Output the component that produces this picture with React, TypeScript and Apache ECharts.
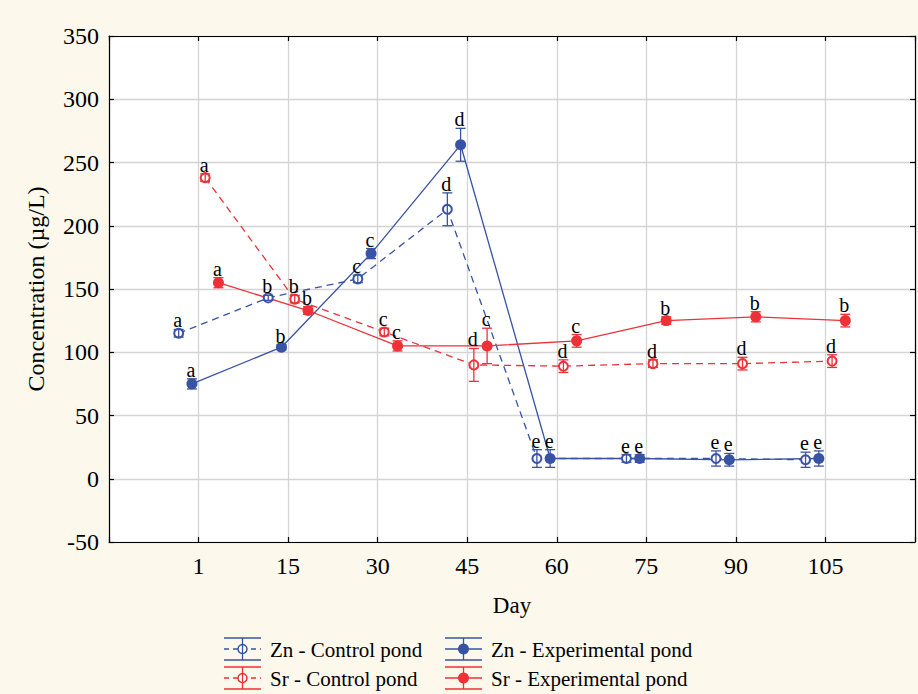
import React, { useEffect, useRef } from 'react';
import * as echarts from 'echarts';

const days = ['1', '15', '30', '45', '60', '75', '90', '105'];
const seriesNames = ['Zn - Control pond', 'Zn - Experimental pond', 'Sr - Control pond', 'Sr - Experimental pond'];

const znControl = [115, 143, 158, 213, 16, 16, 16, 15];
const znControlErr = [3, 2, 3, 13, 7, 3, 6, 6];
const znControlLetters = ['a', 'b', 'c', 'd', 'e', 'e', 'e', 'e'];

const znExp = [75, 104, 178, 264, 16, 16, 15, 16];
const znExpErr = [4, 2, 4, 13, 7, 3, 5, 6];
const znExpLetters = ['a', 'b', 'c', 'd', 'e', 'e', 'e', 'e'];

const srControl = [238, 142, 116, 90, 89, 91, 91, 93];
const srControlErr = [3, 3, 3, 13, 5, 3, 5, 5];
const srControlLetters = ['a', 'b', 'c', 'd', 'd', 'd', 'd', 'd'];

const srExp = [155, 133, 105, 105, 109, 125, 128, 125];
const srExpErr = [4, 3, 4, 14, 5, 3, 4, 5];
const srExpLetters = ['a', 'b', 'c', 'c', 'c', 'b', 'b', 'b'];

const BLUE = '#3953a4';
const RED = '#ee3138';
const FONT = '"Liberation Serif", "Times New Roman", serif';

export default function App() {
  const ref = useRef<HTMLDivElement>(null);
  useEffect(() => {
    const chart = echarts.init(ref.current!, null, { renderer: 'svg' });
    const groups = [
      { name: seriesNames[0], values: znControl, errors: znControlErr, letters: znControlLetters, color: BLUE, dashed: true, hollow: true },
      { name: seriesNames[1], values: znExp, errors: znExpErr, letters: znExpLetters, color: BLUE, dashed: false, hollow: false },
      { name: seriesNames[2], values: srControl, errors: srControlErr, letters: srControlLetters, color: RED, dashed: true, hollow: true },
      { name: seriesNames[3], values: srExp, errors: srExpErr, letters: srExpLetters, color: RED, dashed: false, hollow: false },
    ];
    const offsets = [-0.222, -0.074, 0.074, 0.222];
    const series: any[] = [];
    groups.forEach((g, gi) => {
      series.push({
        type: 'line',
        name: g.name,
        data: g.values.map((v, i) => [i + offsets[gi], v]),
        symbol: g.hollow ? 'emptyCircle' : 'circle',
        symbolSize: g.hollow ? 9 : 11,
        lineStyle: { color: g.color, width: 1.3, type: g.dashed ? [7, 5] : 'solid' },
        itemStyle: { color: g.color, borderWidth: g.hollow ? 1.5 : 0 },
        z: 2,
        silent: true,
      });
      series.push({
        type: 'custom',
        name: g.name + ' err',
        data: g.values.map((v, i) => [i + offsets[gi], v - g.errors[i], v + g.errors[i]]),
        encode: { x: 0, y: [1, 2] },
        z: 3,
        silent: true,
        renderItem: (params: any, api: any) => {
          const x = api.value(0);
          const pLo = api.coord([x, api.value(1)]);
          const pHi = api.coord([x, api.value(2)]);
          const cx = pLo[0];
          const half = 5;
          const st = { stroke: g.color, lineWidth: 1.3 };
          return {
            type: 'group',
            children: [
              { type: 'line', shape: { x1: cx, y1: pLo[1], x2: cx, y2: pHi[1] }, style: st },
              { type: 'line', shape: { x1: cx - half, y1: pLo[1], x2: cx + half, y2: pLo[1] }, style: st },
              { type: 'line', shape: { x1: cx - half, y1: pHi[1], x2: cx + half, y2: pHi[1] }, style: st },
              {
                type: 'text',
                style: {
                  text: g.letters[params.dataIndex],
                  x: cx - 1,
                  y: pHi[1] + 1,
                  align: 'center',
                  verticalAlign: 'bottom',
                  fontSize: 20,
                  fontFamily: FONT,
                  fill: '#000',
                },
              },
            ],
          };
        },
      });
    });

    const graphic: any[] = [];
    groups.forEach((g, i) => {
      const col = i % 2;
      const row = Math.floor(i / 2);
      const x0 = [224, 445][col];
      const tx = [270, 491][col];
      const cy = [649, 678][row];
      const w = 37;
      const mid = x0 + w / 2;
      const st = { stroke: g.color, lineWidth: 1.3 };
      graphic.push({ type: 'line', shape: { x1: x0, y1: cy - 11, x2: x0 + w, y2: cy - 11 }, style: st });
      graphic.push({ type: 'line', shape: { x1: x0, y1: cy + 11, x2: x0 + w, y2: cy + 11 }, style: st });
      graphic.push({ type: 'line', shape: { x1: x0, y1: cy, x2: x0 + w, y2: cy }, style: { ...st, lineDash: g.dashed ? [5, 4] : null } });
      graphic.push({ type: 'circle', shape: { cx: mid, cy, r: g.hollow ? 4.5 : 5.5 }, style: { fill: g.hollow ? '#fff' : g.color, stroke: g.color, lineWidth: g.hollow ? 1.5 : 0 } });
      graphic.push({ type: 'line', shape: { x1: mid, y1: cy - 11, x2: mid, y2: cy + 11 }, style: st });
      graphic.push({ type: 'text', style: { text: g.name, x: tx, y: cy + 1, verticalAlign: 'middle', fontSize: 21, fontFamily: FONT, fill: '#000' } });
    });

    const axisCommon = {
      axisLine: { show: true, onZero: false, lineStyle: { color: '#000', width: 1.2 } },
      axisTick: { show: true, inside: true, length: 5, lineStyle: { color: '#000', width: 1.2 } },
    };

    chart.setOption({
      animation: false,
      backgroundColor: '#fcf8ec',
      textStyle: { fontFamily: FONT },
      grid: { left: 109, top: 36, width: 810, height: 506, show: true, backgroundColor: '#ffffff', borderWidth: 0 },
      xAxis: [
        {
          type: 'value', min: -1, max: 8, interval: 1, position: 'bottom',
          ...axisCommon,
          axisLabel: {
            fontSize: 24, color: '#000', fontFamily: FONT, margin: 12,
            formatter: (v: number) => (v >= 0 && v < days.length ? days[v] : ''),
          },
          splitLine: { show: true, lineStyle: { color: '#d4d4d4', width: 1.3 } },
          name: 'Day', nameLocation: 'middle', nameGap: 52,
          nameTextStyle: { fontSize: 23, color: '#000', fontFamily: FONT },
        },
        {
          type: 'value', min: -1, max: 8, interval: 1, position: 'top',
          ...axisCommon,
          axisLabel: { show: false },
          splitLine: { show: false },
        },
      ],
      yAxis: [
        {
          type: 'value', min: -50, max: 350, interval: 50, position: 'left',
          ...axisCommon,
          axisLabel: { fontSize: 24, color: '#000', fontFamily: FONT, margin: 10 },
          splitLine: { show: true, lineStyle: { color: '#d4d4d4', width: 1.3 } },
          name: 'Concentration (µg/L)', nameLocation: 'middle', nameGap: 61,
          nameTextStyle: { fontSize: 24, color: '#000', fontFamily: FONT },
        },
        {
          type: 'value', min: -50, max: 350, interval: 50, position: 'right',
          ...axisCommon,
          axisLabel: { show: false },
          splitLine: { show: false },
        },
      ],
      series,
      graphic,
    });
    return () => chart.dispose();
  }, []);
  return <div ref={ref} style={{ position: 'absolute', left: 0, top: 0, width: 918, height: 694 }} />;
}
